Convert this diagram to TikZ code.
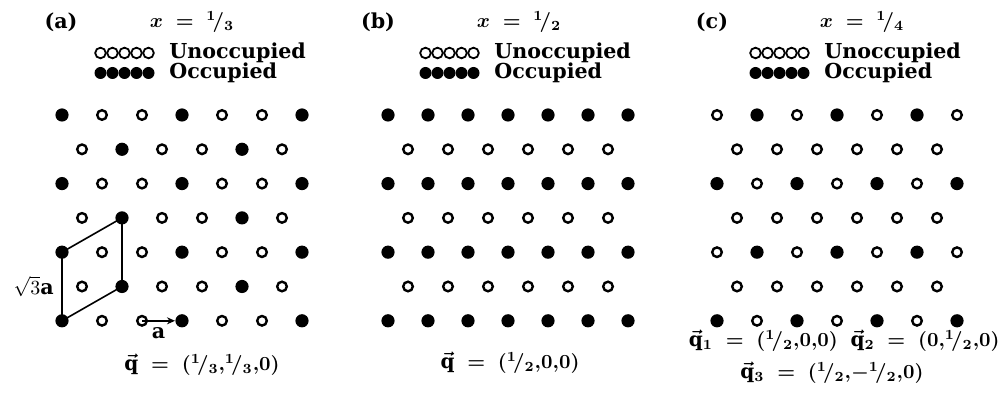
\documentclass[tikz,border=0pt]{standalone}
\usepackage{fontspec}
\setmainfont{DejaVu Serif}
\usetikzlibrary{arrows.meta,positioning,calc}
\tikzset{
  occ/.style={circle,fill=black,inner sep=0pt,minimum size=6.6pt},
  emp/.style={circle,draw=black,line width=1.2pt,fill=white,inner sep=0pt,minimum size=4.8pt},
  lbl/.style={inner sep=0pt,font=\fontsize{10.3}{12}\selectfont\bfseries},
  eqn/.style={inner sep=0pt,font=\fontsize{10}{12}\selectfont\boldmath},
  cell/.style={line width=0.8pt},
  arr/.style={-{Stealth[length=4pt,width=3.5pt]},line width=0.8pt}
}
\newcommand{\frc}[2]{{}^{#1}\!/_{#2}}
% one panel of the triangular lattice: name, x of first site, rows
\newcommand{\lattice}[3]{%
  \foreach \r/\row in {#3} {
    \foreach \s [count=\i] in \row {
      \ifnum\s=1 \def\st{occ}\else\def\st{emp}\fi
      \node[\st] (#1-\r-\i) at ({#2+40*(\i-1)+20*mod(\r,2)},{115+34.3*\r}) {};
    }
  }}
% legend: name, x of first circle
\newcommand{\legend}[2]{%
  \foreach \k in {0,...,4} {
    \draw[line width=0.9pt] ({#2+5.5+12*\k},53) circle (5.3);
    \fill ({#2+5.5+12*\k},73) circle (6);
  }
  \node[lbl,anchor=west] (#1-un) at (#2+74,53) {Unoccupied};
  \node[lbl,anchor=west] (#1-oc) at (#2+74,73) {Occupied};
}

\begin{document}
\begin{tikzpicture}[x=0.5pt,y=-0.5pt]
\useasboundingbox (0,0) rectangle (1005,394);
% (a) x = 1/3
\lattice{a}{62}{0/{1,0,0,1,0,0,1},1/{0,1,0,0,1,0},2/{1,0,0,1,0,0,1},3/{0,1,0,0,1,0},4/{1,0,0,1,0,0,1},5/{0,1,0,0,1,0},6/{1,0,0,1,0,0,1}}
\node[lbl] (ha) at (61,22) {(a)};
\node[eqn] (xa) at (192,22) {$x\;=\;\frc{1}{3}$};
\legend{a}{95}
\draw[cell] (a-4-1.center) -- (a-3-2.center) -- (a-5-2.center) -- (a-6-1.center) -- cycle;
\node[lbl,left=4pt of $(a-4-1)!0.5!(a-6-1)$] (sq) {$\sqrt{3}$a};
\draw[arr] (a-6-3.center) -- (a-6-4.west) node[midway,below=3pt,lbl] (la) {a};
\node[eqn] (qa) at (202,365) {$\vec{\mathrm{q}}\;=\;(\frc{1}{3}{,}\frc{1}{3}{,}0)$};
% (b) x = 1/2
\lattice{b}{388}{0/{1,1,1,1,1,1,1},1/{0,0,0,0,0,0},2/{1,1,1,1,1,1,1},3/{0,0,0,0,0,0},4/{1,1,1,1,1,1,1},5/{0,0,0,0,0,0},6/{1,1,1,1,1,1,1}}
\node[lbl] (hb) at (378,22) {(b)};
\node[eqn] (xb) at (519,22) {$x\;=\;\frc{1}{2}$};
\legend{b}{420}
\node[eqn] (qb) at (510,363) {$\vec{\mathrm{q}}\;=\;(\frc{1}{2}{,}0{,}0)$};
% (c) x = 1/4
\lattice{c}{717}{0/{0,1,0,1,0,1,0},1/{0,0,0,0,0,0},2/{1,0,1,0,1,0,1},3/{0,0,0,0,0,0},4/{0,1,0,1,0,1,0},5/{0,0,0,0,0,0},6/{1,0,1,0,1,0,1}}
\node[lbl] (hc) at (712,22) {(c)};
\node[eqn] (xc) at (862,22) {$x\;=\;\frc{1}{4}$};
\legend{c}{750}
\node[eqn,anchor=east] (qc) at (1000,341) {$\vec{\mathrm{q}}_1\;=\;(\frc{1}{2}{,}0{,}0)\;\;\vec{\mathrm{q}}_2\;=\;(0{,}\frc{1}{2}{,}0)$};
\node[eqn] (qd) at (832,373) {$\vec{\mathrm{q}}_3\;=\;(\frc{1}{2}{,}{-}\frc{1}{2}{,}0)$};
\end{tikzpicture}
\end{document}
